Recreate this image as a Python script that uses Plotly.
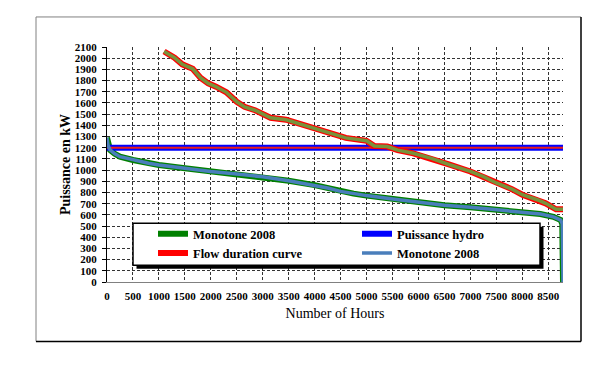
import plotly.graph_objects as go

# ---- data ----
mono_hours = [0, 20, 60, 150, 250, 500, 800, 1000, 1500, 2000, 2500, 3000, 3500, 4000,
              4250, 4500, 4750, 5000, 5500, 6000, 6500, 7000, 7500, 8000, 8350, 8600,
              8740, 8770, 8784]
mono_kw = [1290, 1220, 1180, 1145, 1120, 1090, 1062, 1046, 1016, 988, 965, 940, 905, 866,
           840, 810, 790, 772, 742, 712, 686, 668, 648, 625, 607, 582,
           553, 520, 0]

flow_hours = [1100, 1300, 1450, 1550, 1650, 1800, 1950, 2100, 2300, 2500, 2650, 2850, 3150,
              3450, 3750, 4050, 4300, 4600, 5000, 5150, 5400, 5600, 5900, 6250, 6600, 7000,
              7250, 7500, 7800, 8000, 8300, 8450, 8650, 8784]
flow_kw = [2060, 2005, 1945, 1925, 1905, 1825, 1775, 1745, 1695, 1610, 1565, 1535, 1468,
           1450, 1408, 1360, 1325, 1288, 1262, 1215, 1210, 1178, 1150, 1105, 1048, 988,
           942, 885, 830, 780, 733, 703, 650, 650]

hydro_hours = [0, 8784]
hydro_kw = [1200, 1200]

x_ticks = list(range(0, 9000, 500))
y_ticks = list(range(0, 2200, 100))

# ---- layout helpers (page pixel -> paper); page body has an 8px margin ----
OFF = 8
W, H = 615 - OFF, 374 - OFF
PL, PR, PT, PB = 107, 563, 47, 281.7          # plot area in page pixels
L, T = PL - OFF, PT - OFF
R, B = W - (PR - OFF), H - (PB - OFF)
PW, PH = PR - PL, PB - PT
def px(x):
    return (x - PL) / PW
def py(y):
    return (PB - y) / PH

FONT = "Times New Roman, Liberation Serif, serif"

fig = go.Figure()
fig.add_trace(go.Scatter(x=mono_hours, y=mono_kw, mode="lines", name="<b>Monotone 2008</b>",
                         line=dict(color="#008000", width=6)))
fig.add_trace(go.Scatter(x=hydro_hours, y=hydro_kw, mode="lines", name="<b>Puissance hydro</b>",
                         line=dict(color="#0000FF", width=6)))
fig.add_trace(go.Scatter(x=hydro_hours, y=hydro_kw, mode="lines", showlegend=False,
                         line=dict(color="#E8201A", width=2), hoverinfo="skip"))
fig.add_trace(go.Scatter(x=flow_hours, y=flow_kw, mode="lines", name="<b>Flow duration curve</b>",
                         line=dict(color="#FF0000", width=6)))
fig.add_trace(go.Scatter(x=flow_hours, y=flow_kw, mode="lines", showlegend=False,
                         line=dict(color="#77933C", width=3.5), hoverinfo="skip"))
fig.add_trace(go.Scatter(x=mono_hours, y=mono_kw, mode="lines", name="<b>Monotone 2008</b>",
                         line=dict(color="#4A7EBB", width=3.5)))

shapes = [
    # outer frame
    dict(type="line", xref="paper", yref="paper", x0=px(36), x1=px(36), y0=py(17), y1=py(341),
         line=dict(color="#808080", width=1)),
    dict(type="line", xref="paper", yref="paper", x0=px(36), x1=px(581), y0=py(17), y1=py(17),
         line=dict(color="#808080", width=1)),
    dict(type="line", xref="paper", yref="paper", x0=px(581), x1=px(581), y0=py(17), y1=py(341),
         line=dict(color="black", width=1.5)),
    dict(type="line", xref="paper", yref="paper", x0=px(36), x1=px(581), y0=py(341), y1=py(341),
         line=dict(color="black", width=1.5)),
    # legend shadow and box
    dict(type="rect", xref="paper", yref="paper", x0=px(136.5), x1=px(543.5), y0=py(226.5), y1=py(268.5),
         fillcolor="black", line=dict(width=0), layer="above"),
    dict(type="rect", xref="paper", yref="paper", x0=px(133), x1=px(540), y0=py(223), y1=py(265),
         fillcolor="white", line=dict(color="black", width=1.5), layer="above"),
]

fig.update_layout(
    width=W, height=H,
    margin=dict(l=L, r=R, t=T, b=B, autoexpand=False),
    paper_bgcolor="white", plot_bgcolor="white",
    font=dict(family=FONT, color="black"),
    showlegend=True,
    legend=dict(orientation="h", x=px(135), y=py(219), xanchor="left", yanchor="top",
                bgcolor="rgba(0,0,0,0)", borderwidth=0,
                font=dict(family=FONT, size=12.5, color="black"),
                entrywidth=141, entrywidthmode="pixels", itemwidth=30,
                indentation=18, traceorder="normal"),
    shapes=shapes,
    xaxis=dict(range=[0, 8784], tickvals=x_ticks, ticktext=[str(v) for v in x_ticks],
               tickfont=dict(family=FONT, size=11, color="black", weight="bold"),
               showgrid=True, gridcolor="#333333", griddash="3px,2px", gridwidth=1,
               showline=True, linecolor="#808080", linewidth=1, zeroline=False,
               ticks="", ticklabelstandoff=4, automargin=False,
               title=dict(text="Number of Hours", font=dict(family=FONT, size=14, color="black"),
                          standoff=6)),
    yaxis=dict(range=[0, 2100], tickvals=y_ticks, ticktext=[str(v) for v in y_ticks],
               tickfont=dict(family=FONT, size=11, color="black", weight="bold"),
               showgrid=True, gridcolor="#333333", griddash="3px,2px", gridwidth=1,
               showline=True, linecolor="black", linewidth=1, zeroline=False,
               ticks="outside", ticklen=4, tickcolor="black", automargin=False,
               ticklabelstandoff=3,
               title=dict(text="<b>Puissance en kW</b>", font=dict(family=FONT, size=14, color="black"),
                          standoff=0)),
)

fig.write_html("out.html")
